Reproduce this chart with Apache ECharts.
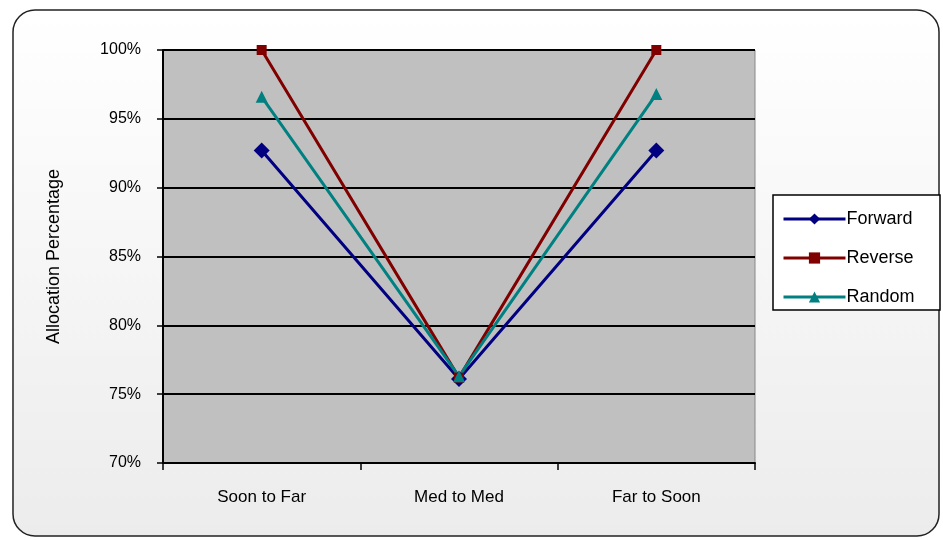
<!DOCTYPE html>
<html><head><meta charset="utf-8">
<script src="https://cdn.jsdelivr.net/npm/echarts@6/dist/echarts.min.js"></script>
<style>html,body{margin:0;padding:0;background:#fff}#c{width:943px;height:540px}</style>
</head><body><div id="c"></div>
<script>
var categories = ['Soon to Far', 'Med to Med', 'Far to Soon'];
var forward = [92.7, 76.1, 92.7];
var reverse = [100, 76.2, 100];
var random = [96.6, 76.3, 96.8];
var yTicks = [70, 75, 80, 85, 90, 95, 100];

var chart = echarts.init(document.getElementById('c'));
var font = 'Arial, "Liberation Sans", sans-serif';
function mk(name, data, color, symbol, size) {
  return {
    name: name, type: 'line', data: data, symbol: symbol, symbolSize: size,
    lineStyle: {color: color, width: 3}, itemStyle: {color: color},
    emphasis: {disabled: true}
  };
}
chart.setOption({
  animation: false,
  graphic: [{
    type: 'rect', z: -10,
    shape: {x: 13, y: 10, width: 926, height: 526, r: 22},
    style: {
      fill: {type: 'linear', x: 0, y: 0, x2: 0, y2: 1, colorStops: [{offset: 0, color: '#ffffff'}, {offset: 1, color: '#ececec'}]},
      stroke: '#222', lineWidth: 1.5
    }
  }, {
    type: 'rect', z: 10,
    shape: {x: 773, y: 195, width: 167, height: 115},
    style: {fill: '#ffffff', stroke: '#000', lineWidth: 1.5}
  }],
  grid: {left: 163, top: 50, width: 592, height: 413, backgroundColor: '#c0c0c0', show: true, borderColor: '#888', borderWidth: 1},
  legend: {
    orient: 'vertical', left: 777, top: 205, itemGap: 21, itemWidth: 62, itemHeight: 14, z: 20,
    lineStyle: {width: 3},
    textStyle: {fontFamily: font, fontSize: 18, color: '#000', padding: [0, 0, 0, -4]},
    data: ['Forward', 'Reverse', 'Random']
  },
  xAxis: {
    type: 'category', data: categories, boundaryGap: true,
    axisLine: {lineStyle: {color: '#000', width: 2}},
    axisTick: {show: true, length: 7, lineStyle: {color: '#000', width: 1.5}},
    axisLabel: {margin: 26, fontFamily: font, fontSize: 17, color: '#000'}
  },
  yAxis: {
    type: 'value', min: 70, max: 100, interval: 5,
    name: 'Allocation Percentage', nameLocation: 'middle', nameGap: 100, nameRotate: 90,
    nameTextStyle: {fontFamily: font, fontSize: 18, color: '#000'},
    axisLine: {show: true, lineStyle: {color: '#000', width: 2}},
    axisTick: {show: true, length: 6, lineStyle: {color: '#000', width: 1.5}},
    axisLabel: {margin: 22, fontFamily: font, fontSize: 16, color: '#000', formatter: function (v) { return yTicks.indexOf(v) >= 0 ? v + '%' : ''; }},
    splitLine: {lineStyle: {color: '#000', width: 2}}
  },
  series: [
    mk('Forward', forward, '#000080', 'diamond', 16),
    mk('Reverse', reverse, '#800000', 'rect', 10),
    mk('Random', random, '#008080', 'triangle', 12)
  ]
});
</script></body></html>
